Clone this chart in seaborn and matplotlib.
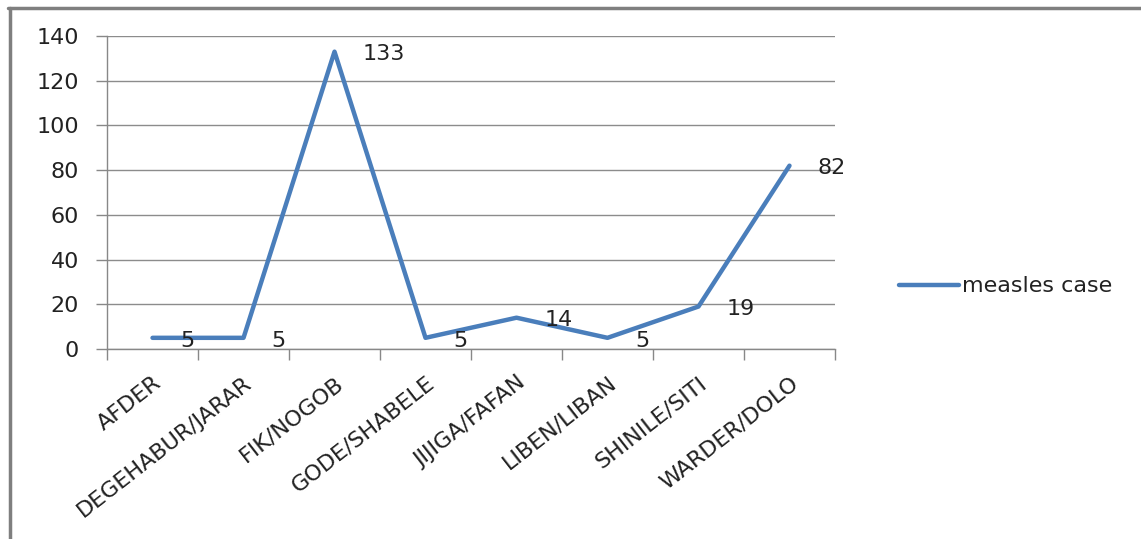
import pandas as pd
from matplotlib import pyplot as plt
from matplotlib.lines import Line2D
import seaborn as sns

zones = ["AFDER", "DEGEHABUR/JARAR", "FIK/NOGOB", "GODE/SHABELE",
         "JIJIGA/FAFAN", "LIBEN/LIBAN", "SHINILE/SITI", "WARDER/DOLO"]
cases = [5, 5, 133, 5, 14, 5, 19, 82]
y_ticks = [0, 20, 40, 60, 80, 100, 120, 140]


def measles_chart():
  df = pd.DataFrame({"zone": zones, "cases": cases})
  sns.set_style("white")
  plt.rcParams["font.family"] = ["DejaVu Sans"]

  fig = plt.figure(figsize=(11.41, 5.39), dpi=100)
  ax = fig.add_axes([0.0938, 0.3525, 0.638, 0.5807])

  sns.lineplot(x="zone", y="cases", data=df, ax=ax, color="#4a7ebb",
               linewidth=3.2, label="measles case", sort=False)

  fs = 16
  for i, v in enumerate(cases):
    ax.annotate(str(v), (i, v), xytext=(20, -2), textcoords="offset points",
                ha="left", va="center", fontsize=fs, color="#222222")

  ax.set_xlim(-0.5, len(zones) - 0.5)
  ax.set_ylim(0, 140)
  ax.set_yticks(y_ticks)
  ax.set_yticklabels([str(t) for t in y_ticks], fontsize=fs, color="#222222")
  ax.set_xticks(range(len(zones)))
  ax.set_xticklabels(zones, rotation=38, ha="right", rotation_mode="anchor",
                     fontsize=fs, color="#222222")
  ax.set_xticks([i - 0.5 for i in range(len(zones) + 1)], minor=True)
  ax.tick_params(axis="x", which="major", length=0, pad=17)
  ax.tick_params(axis="x", which="minor", length=8, color="#888888", width=1,
                 direction="out", bottom=True)
  ax.tick_params(axis="y", length=8, color="#888888", width=1, direction="out",
                 left=True, pad=12)
  ax.grid(axis="y", color="#8c8c8c", linewidth=1)
  ax.set_xlabel("")
  ax.set_ylabel("")
  for side in ["top", "right"]:
    ax.spines[side].set_visible(False)
  for side in ["left", "bottom"]:
    ax.spines[side].set_color("#888888")
    ax.spines[side].set_linewidth(1)

  leg = ax.legend(loc="center left", bbox_to_anchor=(1.06, 0.2), frameon=False,
                  fontsize=fs, handlelength=2.7, handletextpad=0.15)
  for t in leg.get_texts():
    t.set_color("#222222")

  # chart frame: only the left and top edges show in the original
  fig.lines.append(Line2D([9.5 / 1141, 9.5 / 1141], [0, 1 - 8 / 539],
                          transform=fig.transFigure, color="#7f7f7f", linewidth=2.5))
  fig.lines.append(Line2D([8 / 1141, 1], [1 - 8 / 539, 1 - 8 / 539],
                          transform=fig.transFigure, color="#7f7f7f", linewidth=2.5))

  plt.savefig("out.png", dpi=100)


if __name__ == "__main__":
  measles_chart()
